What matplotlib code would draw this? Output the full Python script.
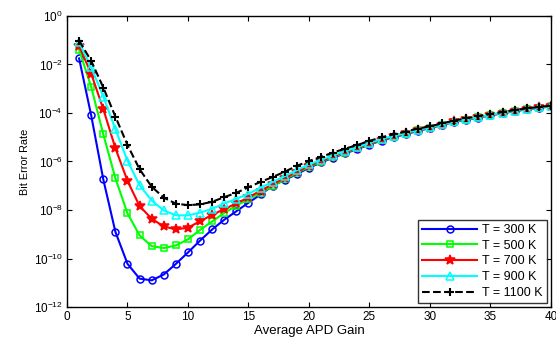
import numpy as np
import matplotlib
matplotlib.use('Agg')
import matplotlib.pyplot as plt
from matplotlib.ticker import FixedLocator, FuncFormatter, NullLocator

plt.rcParams['font.family'] = ['Liberation Sans', 'DejaVu Sans']
plt.rcParams['mathtext.fontset'] = 'custom'
plt.rcParams['mathtext.rm'] = 'Liberation Sans'
plt.rcParams['mathtext.it'] = 'Liberation Sans:italic'

# average APD gain (x axis)
gain = np.arange(1, 41)

# log10 of bit error rate, one list per temperature
log_ber_300 = [-1.75, -4.10, -6.74, -8.90, -10.22, -10.83, -10.90, -10.66, -10.22, -9.75,
               -9.26, -8.80, -8.40, -8.05, -7.70, -7.36, -7.00, -6.76, -6.52, -6.26,
               -6.04, -5.84, -5.66, -5.49, -5.30, -5.14, -5.00, -4.87, -4.74, -4.62,
               -4.50, -4.37, -4.28, -4.19, -4.10, -4.01, -3.93, -3.85, -3.79, -3.73]
log_ber_500 = [-1.39, -2.92, -4.88, -6.69, -8.14, -9.05, -9.49, -9.57, -9.46, -9.21,
               -8.82, -8.47, -8.12, -7.82, -7.56, -7.29, -7.01, -6.74, -6.47, -6.22,
               -6.01, -5.81, -5.63, -5.46, -5.28, -5.12, -4.98, -4.85, -4.72, -4.61,
               -4.49, -4.36, -4.27, -4.18, -4.09, -4.00, -3.92, -3.84, -3.78, -3.72]
log_ber_700 = [-1.23, -2.38, -3.84, -5.45, -6.80, -7.84, -8.36, -8.68, -8.80, -8.73,
               -8.46, -8.20, -7.96, -7.73, -7.48, -7.20, -6.94, -6.68, -6.42, -6.18,
               -5.98, -5.78, -5.60, -5.44, -5.26, -5.10, -4.96, -4.84, -4.71, -4.60,
               -4.48, -4.35, -4.26, -4.17, -4.08, -3.99, -3.91, -3.84, -3.77, -3.72]
log_ber_900 = [-1.09, -2.12, -3.32, -4.67, -5.97, -6.98, -7.61, -8.02, -8.22, -8.22,
               -8.11, -7.95, -7.73, -7.54, -7.33, -7.08, -6.84, -6.60, -6.35, -6.12,
               -5.93, -5.74, -5.57, -5.41, -5.23, -5.07, -4.94, -4.82, -4.69, -4.59,
               -4.47, -4.34, -4.25, -4.16, -4.07, -3.98, -3.90, -3.83, -3.77, -3.72]
log_ber_1100 = [-1.02, -1.85, -2.95, -4.15, -5.32, -6.32, -7.04, -7.49, -7.74, -7.80,
                -7.77, -7.66, -7.47, -7.29, -7.06, -6.84, -6.64, -6.42, -6.18, -5.98,
                -5.81, -5.63, -5.47, -5.32, -5.15, -5.00, -4.88, -4.77, -4.64, -4.55,
                -4.43, -4.31, -4.22, -4.13, -4.05, -3.96, -3.88, -3.81, -3.75, -3.70]

labels = ['T = 300 K', 'T = 500 K', 'T = 700 K', 'T = 900 K', 'T = 1100 K']
y_exponents = [-12, -10, -8, -6, -4, -2, 0]
x_ticks = [0, 5, 10, 15, 20, 25, 30, 35, 40]

fig = plt.figure(figsize=(5.56, 3.38), dpi=100)
ax = fig.add_axes([0.1205, 0.0917, 0.8705, 0.861])

series = [log_ber_300, log_ber_500, log_ber_700, log_ber_900, log_ber_1100]
styles = [
    dict(color='blue', marker='o', ls='-', mfc='none', ms=5),
    dict(color='#00ff00', marker='s', ls='-', mfc='none', ms=5),
    dict(color='red', marker='*', ls='-', mfc='red', ms=7.5),
    dict(color='cyan', marker='^', ls='-', mfc='none', ms=5.5),
    dict(color='black', marker='+', ls='--', mfc='none', ms=6, mew=1.5),
]
for vals, lab, st in zip(series, labels, styles):
    st.setdefault('mew', 1.1)
    ax.plot(gain, np.power(10.0, vals), lw=1.5, label=lab, **st)

ax.set_yscale('log')
ax.set_xlim(0, 40)
ax.set_ylim(1e-12, 1e0)
ax.xaxis.set_major_locator(FixedLocator(x_ticks))
ax.yaxis.set_major_locator(FixedLocator([10.0 ** e for e in y_exponents]))
ax.yaxis.set_minor_locator(NullLocator())
ax.yaxis.set_major_formatter(FuncFormatter(lambda v, p: r'$10^{%d}$' % round(np.log10(v))))
ax.tick_params(axis='both', which='major', direction='in', length=3.5, width=0.8,
               top=True, right=True, labelsize=8.5, pad=3)

for sp in ax.spines.values():
    sp.set_linewidth(1.0)

ax.set_xlabel('Average APD Gain', fontsize=9.5, labelpad=1)
ax.set_ylabel('Bit Error Rate', fontsize=7.8, labelpad=3)

leg = ax.legend(loc='lower right', fontsize=9, frameon=True, fancybox=False,
                edgecolor='black', borderaxespad=0.3, handlelength=4.4,
                handletextpad=0.4, labelspacing=0.3, borderpad=0.35)
leg.get_frame().set_linewidth(1.0)

fig.savefig('out.png', dpi=100)
